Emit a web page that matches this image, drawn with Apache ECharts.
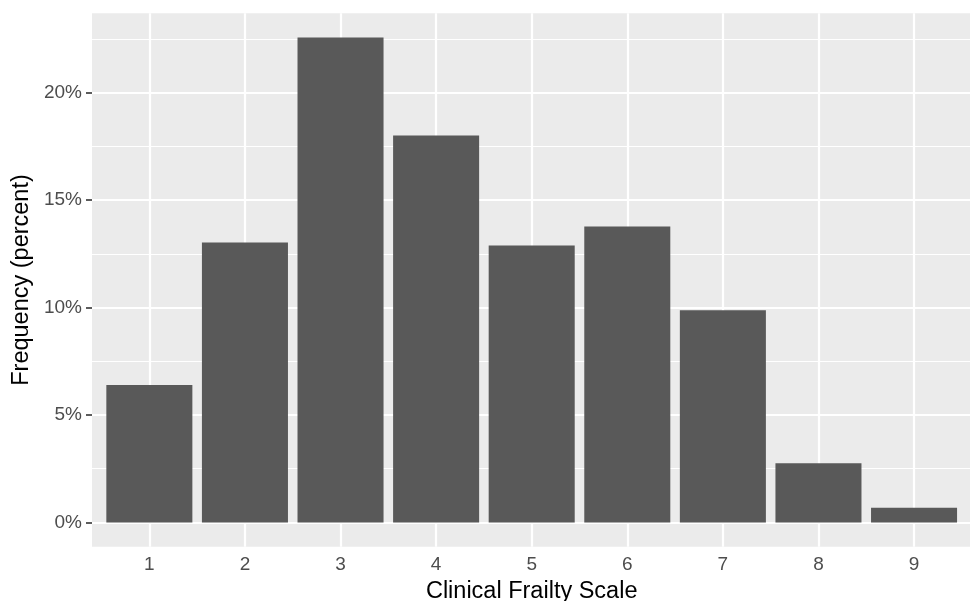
<!DOCTYPE html>
<html>
<head>
<meta charset="utf-8">
<script src="https://cdn.jsdelivr.net/npm/echarts@6/dist/echarts.min.js"></script>
<style>
html,body{margin:0;padding:0;background:#fff;}
#chart{width:970px;height:601px;}
</style>
</head>
<body>
<div id="chart"></div>
<script>
const categories = [1, 2, 3, 4, 5, 6, 7, 8, 9];
const frequency = [6.39, 13.03, 22.56, 18.0, 12.88, 13.77, 9.87, 2.75, 0.68];
const yTicks = [0, 5, 10, 15, 20];
const yMinor = [2.5, 7.5, 12.5, 17.5, 22.5];
const xLabel = 'Clinical Frailty Scale';
const yLabel = 'Frequency (percent)';

const FONT = '"Liberation Sans", Arial, Helvetica, sans-serif';
const maxV = Math.max(...frequency);
const yMin = -0.05 * maxV, yMax = 1.05 * maxV;
const xMin = categories[0] - 0.6, xMax = categories[categories.length - 1] + 0.6;

const gridLines = [];
yTicks.forEach(v => gridLines.push({yAxis: v, lineStyle: {color: '#ffffff', width: 2.2, type: 'solid'}}));
yMinor.forEach(v => gridLines.push({yAxis: v, lineStyle: {color: '#ffffff', width: 1.1, type: 'solid'}}));
categories.forEach(v => gridLines.push({xAxis: v, lineStyle: {color: '#ffffff', width: 2.2, type: 'solid'}}));

const chart = echarts.init(document.getElementById('chart'), null, {renderer: 'canvas'});
chart.setOption({
  animation: false,
  backgroundColor: '#ffffff',
  textStyle: {fontFamily: FONT},
  grid: {
    left: 92, top: 13.3, width: 879.4, height: 533.4,
    show: true, backgroundColor: '#EBEBEB', borderWidth: 0,
    containLabel: false, outerBoundsMode: 'none'
  },
  xAxis: {
    type: 'value', min: xMin, max: xMax,
    name: xLabel, nameLocation: 'middle', nameGap: 32,
    nameTextStyle: {fontSize: 23.5, color: '#000000', fontFamily: FONT},
    axisLine: {show: false},
    axisTick: {show: true, length: 6, lineStyle: {color: '#333333', width: 1.6}, customValues: categories},
    axisLabel: {fontSize: 19, color: '#4D4D4D', margin: 9, fontFamily: FONT, customValues: categories},
    splitLine: {show: false}
  },
  yAxis: {
    type: 'value', min: yMin, max: yMax,
    name: yLabel, nameLocation: 'middle', nameGap: 52, nameRotate: 90,
    nameTextStyle: {fontSize: 23.5, color: '#000000', fontFamily: FONT},
    axisLine: {show: false},
    axisTick: {show: true, length: 6, lineStyle: {color: '#333333', width: 1.6}, customValues: yTicks},
    axisLabel: {fontSize: 19, color: '#4D4D4D', margin: 10, fontFamily: FONT, customValues: yTicks,
      formatter: v => v + '%'},
    splitLine: {show: false}
  },
  series: [
    {
      type: 'line', data: [], z: 1, silent: true,
      markLine: {silent: true, z: 1, symbol: ['none', 'none'], label: {show: false}, animation: false, data: gridLines}
    },
    {
      type: 'custom', z: 10,
      data: categories.map((c, i) => [c, frequency[i]]),
      renderItem: function (params, api) {
        const x = api.value(0), y = api.value(1);
        const p0 = api.coord([x - 0.45, y]);
        const p1 = api.coord([x + 0.45, 0]);
        return {
          type: 'rect',
          shape: {x: p0[0], y: p0[1], width: p1[0] - p0[0], height: p1[1] - p0[1]},
          style: {fill: '#595959'}
        };
      }
    }
  ]
});
</script>
</body>
</html>
